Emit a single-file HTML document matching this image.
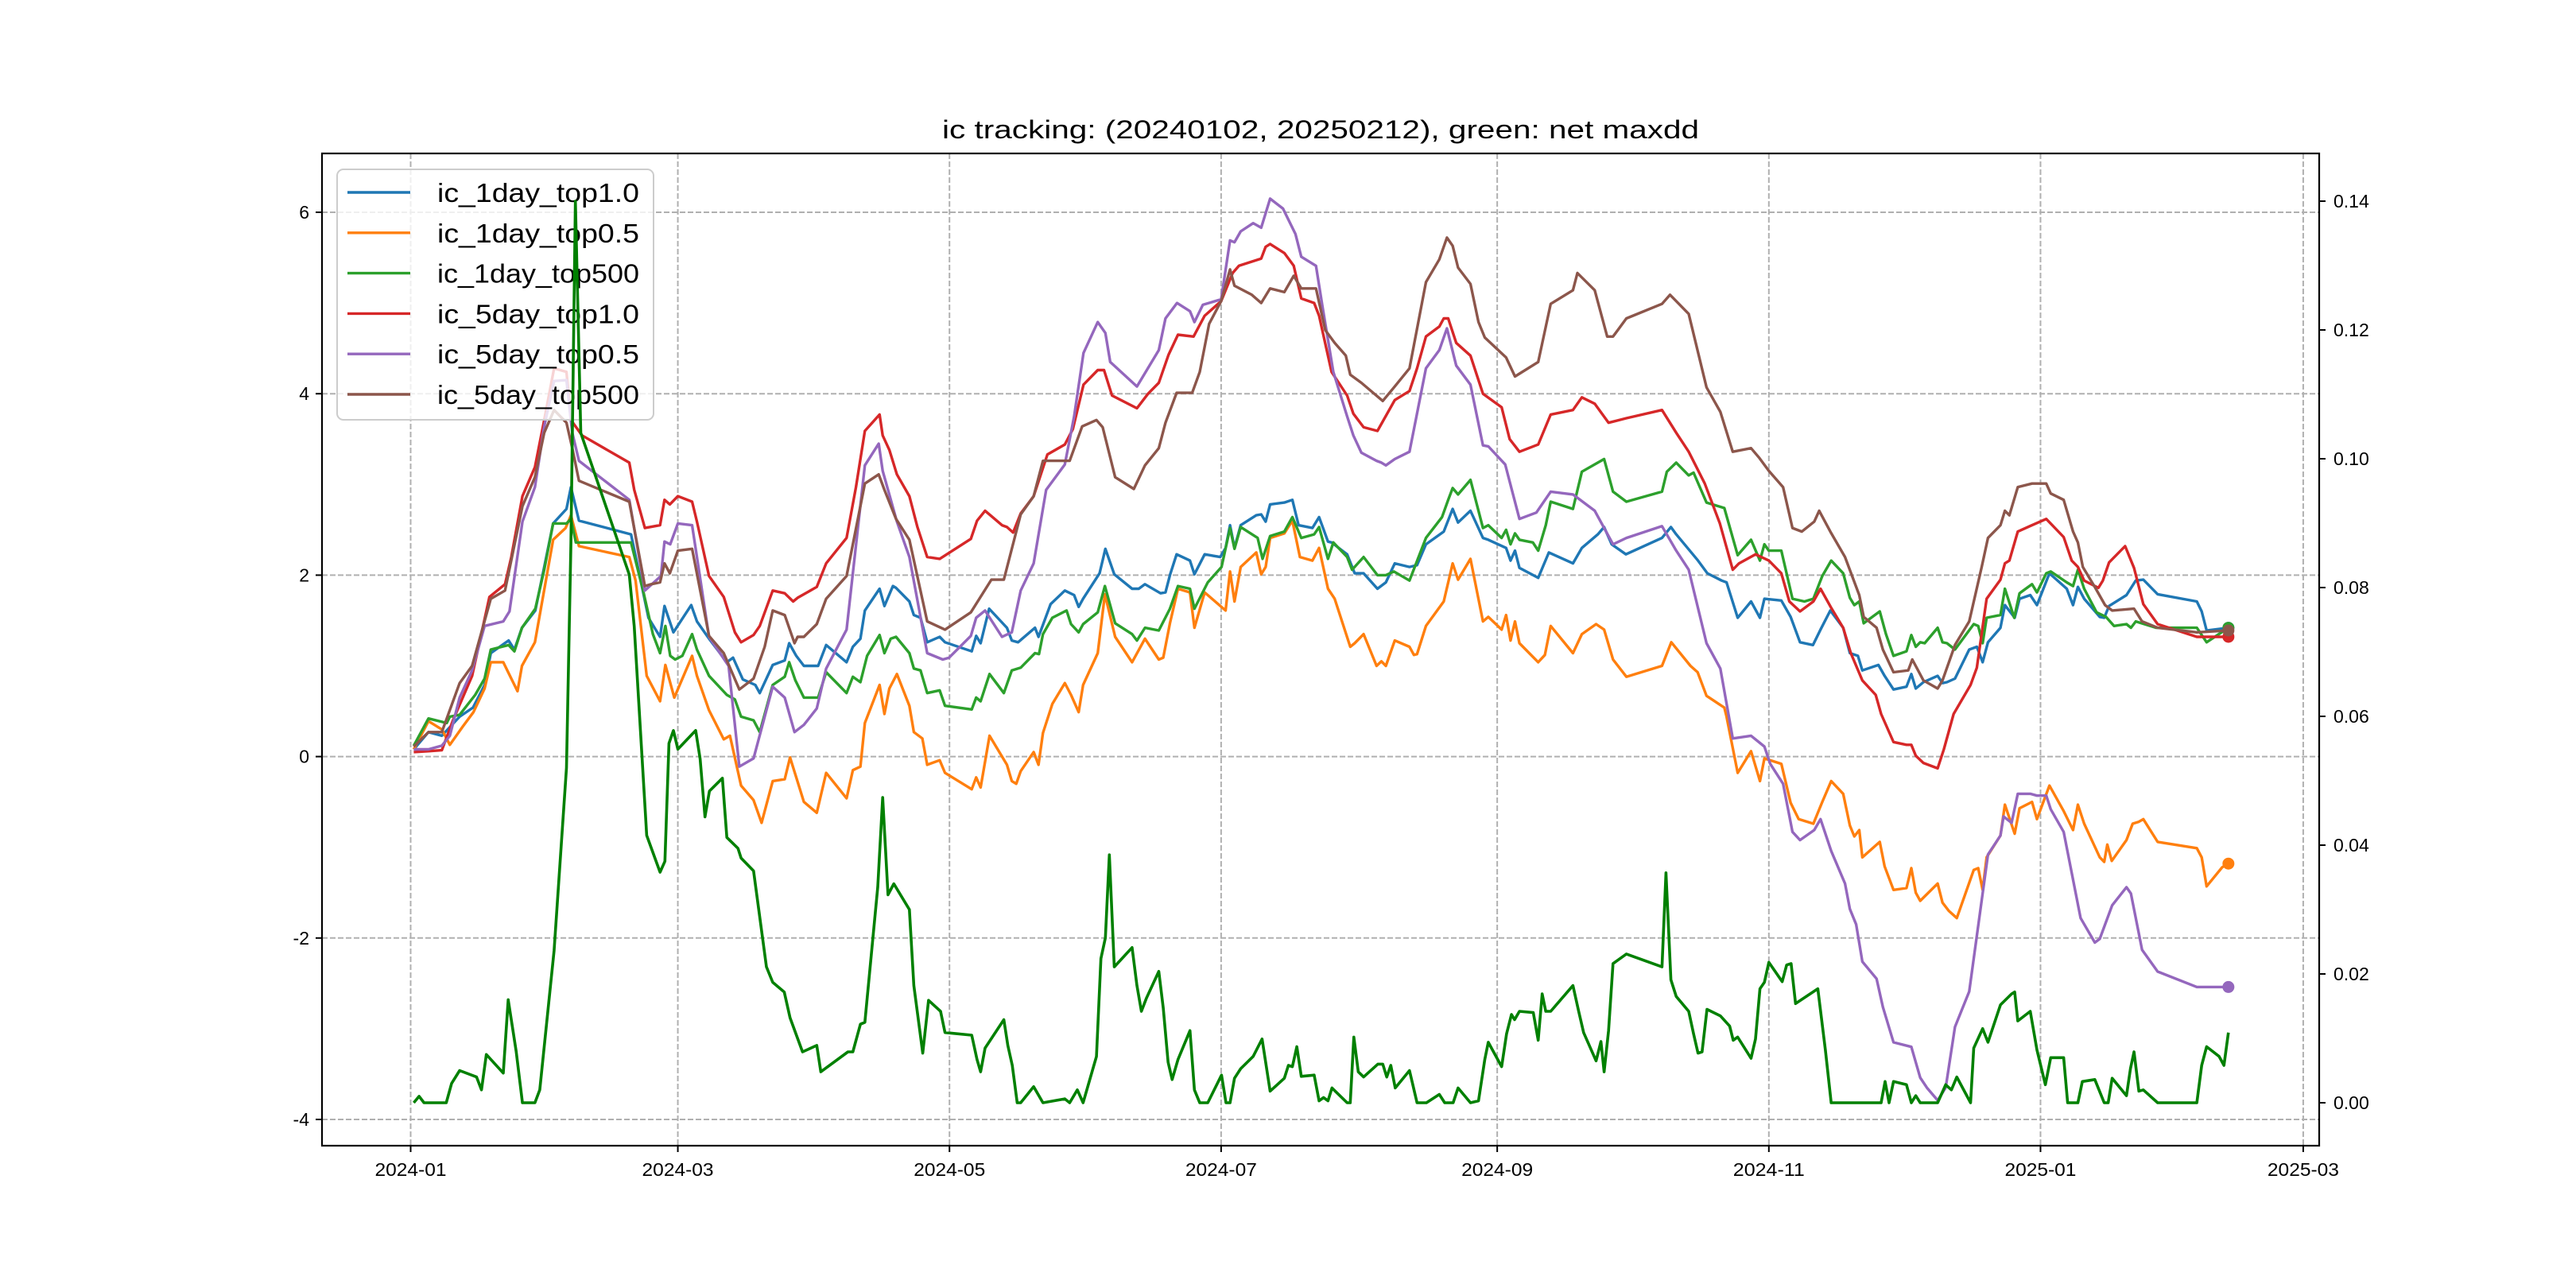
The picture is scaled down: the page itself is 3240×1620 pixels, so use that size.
<!DOCTYPE html>
<html><head><meta charset="utf-8"><style>
html,body{margin:0;padding:0;background:#fff;}
svg{display:block;font-family:"Liberation Sans","WenQuanYi Zen Hei",sans-serif;}
</style></head><body>
<svg id="chart" width="3240" height="1620" viewBox="0 0 3240 1620" xmlns="http://www.w3.org/2000/svg">
<rect x="0" y="0" width="3240" height="1620" fill="#fff"/>
<text x="1661" y="174" font-size="32" text-anchor="middle" fill="#000" textLength="952" lengthAdjust="spacingAndGlyphs">ic tracking: (20240102, 20250212), green: net maxdd</text>
<g id="grid"></g><g id="series"></g><g id="legend"></g><g id="dd"></g><g id="axes"></g>
</svg>
<script>
const xTickLabels=["2024-01","2024-03","2024-05","2024-07","2024-09","2024-11","2025-01","2025-03"];
const xTickDays=[0,60,121,182,244,305,366,425];
const yTickLabels=["-4","-2","0","2","4","6"];
const yTickValues=[-4,-2,0,2,4,6];
const y2TickLabels=["0.00","0.02","0.04","0.06","0.08","0.10","0.12","0.14"];
const y2TickValues=[0,0.02,0.04,0.06,0.08,0.10,0.12,0.14];
const seriesNames=["ic_1day_top1.0","ic_1day_top0.5","ic_1day_top500","ic_5day_top1.0","ic_5day_top0.5","ic_5day_top500"];
const seriesColors=["#1f77b4","#ff7f0e","#2ca02c","#d62728","#9467bd","#8c564b"];

const blueDays=[0.7,4,7,11,14,16.6,18,22,23.3,25,28,32,35,36,37.8,49.5,53.4,56,57,59,63,64.3,67,71,72.4,74.6,77.4,78.4,81.3,84,85,86.6,88.3,91.5,93.3,97.9,99.3,101,102,105.3,106.4,108.3,109,112,113,114.5,116,118.8,120,126,127,128,129.9,133.9,135,136.4,140.2,141,143.7,146.9,149,150,151,154.7,156,158,162,163.5,164.9,168.4,169.5,170.5,172,175,176,178.3,181.8,183,184,185,186.4,189.9,191,192,193,196.2,198,199.4,202.5,204,206,206.8,210.3,212,214,217.1,219,221,224.3,226,228,232,234,235.2,238,240.8,242,246,247,248,249,253.2,255.6,261,263,266.6,268,269.7,272.9,281,283,284.2,289.1,291.2,294.4,295.5,298,301,303,304,307.8,309.9,312,314.9,316.6,318.8,321.7,323.2,325,326,329.6,331,333,335.9,337,338,339.7,342.9,344,345,346.8,350,351.7,353,354.2,357,358,360.2,361.3,363.7,365.2,368,371.9,373.3,374.4,375.8,379.3,380.3,381.4,385.3,387.4,389.1,392.3,401.1,402.2,403.3,408.2];
const blueVals=[0.08,0.27,0.23,0.44,0.54,0.79,1.14,1.28,1.18,1.42,1.61,2.57,2.73,2.97,2.6,2.45,1.53,1.32,1.66,1.37,1.67,1.49,1.30,1.04,1.09,0.85,0.79,0.70,1.01,1.06,1.25,1.11,1.0,1.0,1.23,1.04,1.21,1.30,1.61,1.85,1.66,1.88,1.86,1.71,1.56,1.53,1.26,1.32,1.26,1.16,1.33,1.25,1.63,1.42,1.28,1.26,1.42,1.32,1.68,1.83,1.78,1.65,1.74,2.02,2.29,2.01,1.85,1.85,1.90,1.80,1.81,2.0,2.23,2.16,2.01,2.23,2.2,2.30,2.55,2.30,2.55,2.66,2.67,2.59,2.78,2.80,2.83,2.55,2.52,2.64,2.37,2.36,2.23,2.02,2.02,1.85,1.92,2.13,2.09,2.11,2.34,2.48,2.73,2.58,2.71,2.41,2.39,2.30,2.16,2.27,2.08,1.97,2.25,2.13,2.30,2.45,2.53,2.34,2.23,2.41,2.53,2.45,2.16,2.02,1.94,1.92,1.53,1.71,1.53,1.74,1.72,1.54,1.26,1.23,1.40,1.61,1.42,1.14,1.11,0.95,1.01,0.89,0.74,0.77,0.91,0.75,0.82,0.89,0.81,0.82,0.86,1.18,1.21,1.04,1.26,1.42,1.67,1.53,1.74,1.78,1.67,2.02,1.85,1.67,1.87,1.74,1.54,1.53,1.66,1.78,1.94,1.95,1.79,1.71,1.60,1.39,1.42];

const orangeDays=[0.7,4,7,8.8,11.7,14.1,16.6,18,20.8,22.6,24,25,27.9,32,34.8,36,37.8,49.1,50.5,53,56,57.2,59.2,63.2,64.3,67,70.3,71.7,74.2,77,78.8,81.3,84,85.2,86.6,88.3,91.2,93.3,97.9,99.3,101,102,105.3,106.4,107.5,109.2,112,113,114.9,116,118.8,120,126,127,128,130,133.9,135,136,137,139.9,141,142,144.1,146.9,148.3,150,151,154.3,155.9,158.2,162,164.9,168,169,170.5,172.3,175,176,178.3,183,184,185,186.4,189.9,191,192,193,196.2,198,199.7,202.5,204,206,207.5,211,212,214,216.9,218,219,221,224.3,225.3,226,228,232,234,235.2,238,240.8,242,245,246,247,248,249,253.2,254.7,256,261,263,266.2,268,270,273,281,283.1,287.4,289,291,295,295.5,298,301,303,304,307.8,309.9,311.7,315,317,319,321.7,323.2,324.2,325.3,326,329.9,331,333,335.9,337,338,339,342.9,344,345.4,347.2,351,352,353,353.9,357,358,360.2,361.3,364.1,365.2,368,371.2,373.3,374.4,375.8,379.3,380.3,381,382,385.3,386.7,388,389.1,392.3,401.1,402.2,403.3,406.8,408.2];
const orangeVals=[0.08,0.39,0.30,0.13,0.33,0.49,0.75,1.04,1.04,0.86,0.72,1.0,1.26,2.39,2.52,2.66,2.32,2.2,1.94,0.89,0.61,1.01,0.65,1.11,0.89,0.51,0.19,0.23,-0.32,-0.48,-0.73,-0.27,-0.25,-0.01,-0.23,-0.5,-0.62,-0.18,-0.46,-0.15,-0.11,0.37,0.79,0.47,0.75,0.91,0.56,0.27,0.2,-0.09,-0.04,-0.18,-0.36,-0.23,-0.34,0.23,-0.09,-0.27,-0.30,-0.16,0.05,-0.09,0.26,0.58,0.81,0.68,0.49,0.79,1.14,1.79,1.32,1.04,1.30,1.07,1.09,1.47,1.85,1.81,1.42,1.81,1.61,2.04,1.71,2.09,2.25,2.01,2.09,2.41,2.46,2.60,2.20,2.16,2.30,1.85,1.74,1.21,1.25,1.35,1.0,1.05,1.0,1.28,1.21,1.12,1.13,1.44,1.71,2.13,1.95,2.18,1.49,1.54,1.40,1.56,1.28,1.49,1.25,1.04,1.12,1.44,1.14,1.35,1.46,1.40,1.07,0.88,1.0,1.26,1.0,0.93,0.67,0.54,0.44,-0.18,0.06,-0.27,-0.02,-0.08,-0.51,-0.69,-0.74,-0.5,-0.27,-0.41,-0.76,-0.88,-0.81,-1.11,-0.94,-1.21,-1.47,-1.45,-1.23,-1.50,-1.59,-1.40,-1.61,-1.70,-1.78,-1.25,-1.23,-1.47,-1.11,-0.87,-0.53,-0.85,-0.57,-0.5,-0.69,-0.32,-0.60,-0.81,-0.53,-0.74,-1.11,-1.16,-0.97,-1.15,-0.92,-0.74,-0.72,-0.69,-0.94,-1.01,-1.11,-1.43,-1.22,-1.18];

const greenDays=[0.7,4,8.1,8.8,11,14.5,16.6,18,22,23.3,25,28,30,32,35,36,37.1,49.5,52.3,54.4,56,57.2,58.3,59.4,61,63.2,64.3,67,71,72.8,74.2,77,78.4,81.3,84,85,86.4,88.3,91.5,93.3,97.9,99.3,101,102.5,105.3,106.4,107.8,109,112,113,114.5,116,118.8,120,126,127,128,130,133.2,135,137,140.2,141.1,142,144.1,147.3,148.3,150,151,154.3,155.9,158.2,162,163.1,164.9,168,170.5,172.3,175,176,179,182.1,184,185,186.4,190.2,191.3,193,196.2,198,200,202.9,204,206,207.2,210.3,211.4,214,217.1,219,220.8,224.3,228,231.6,233,234,235.2,238,240.8,242,245,246,247,248,249,252,253.2,254.9,256,261,263,268,270,273,281,282.1,284.2,287,288.1,291,295,298,301,303,304,305,307.8,310.3,313,315,317,319,321.7,323.2,324.2,325.3,326.3,329.9,331.3,333,335.9,337,338,339,340,342.9,344,345,346.8,351,352,353,353.9,357,358,360.1,361.3,364.1,365.2,367.3,368.3,371.9,373.3,374.4,375.8,378.6,380.7,382.5,385.3,386.3,387.4,392,401.1,403.3,408.2];
const greenVals=[0.12,0.42,0.37,0.44,0.46,0.68,0.86,1.18,1.23,1.16,1.42,1.63,2.06,2.57,2.57,2.62,2.36,2.36,1.81,1.35,1.14,1.44,1.11,1.07,1.11,1.35,1.18,0.89,0.68,0.63,0.44,0.40,0.27,0.79,0.88,1.04,0.84,0.65,0.65,0.93,0.70,0.88,0.82,1.11,1.34,1.14,1.30,1.32,1.14,0.97,0.95,0.70,0.73,0.56,0.52,0.65,0.61,0.91,0.70,0.95,0.98,1.14,1.13,1.35,1.53,1.61,1.46,1.37,1.46,1.59,1.88,1.47,1.35,1.28,1.42,1.39,1.63,1.88,1.85,1.63,1.92,2.09,2.52,2.29,2.53,2.41,2.18,2.43,2.48,2.64,2.41,2.45,2.53,2.18,2.36,2.20,2.06,2.20,2.0,2.0,2.04,1.94,2.41,2.64,2.83,2.96,2.89,3.05,2.52,2.55,2.41,2.50,2.34,2.46,2.39,2.36,2.27,2.55,2.81,2.73,3.14,3.28,2.92,2.81,2.92,3.14,3.24,3.10,3.13,2.80,2.74,2.22,2.39,2.16,2.34,2.27,2.27,1.74,1.71,1.74,1.99,2.16,2.02,1.75,1.67,1.71,1.47,1.60,1.35,1.11,1.16,1.34,1.21,1.26,1.25,1.42,1.26,1.25,1.18,1.46,1.44,1.25,1.53,1.56,1.85,1.53,1.80,1.90,1.81,2.02,2.04,1.92,1.88,2.06,1.85,1.59,1.54,1.44,1.46,1.42,1.49,1.42,1.42,1.26,1.42];

const redDays=[0.7,4,7,9.5,13.8,17.7,21.2,22.6,25.1,27.9,30,32.2,35,36,38.5,49.1,50.2,52.6,56,57,58.2,60,63.2,64.3,67,70.3,72.8,74.2,77,78.4,81.3,84,85.9,86.9,91.2,93.3,97.9,100,102,105.3,106,107.5,109.2,112,113.8,116,118.8,125.8,127.2,129,132.8,133.9,135.3,137,139.9,143,146.9,148.7,151.1,154.3,155.7,157.5,163.1,165.6,168,170.2,172.3,175.8,178.3,182,184.6,186,191,192,193,196.2,198.3,200,202.9,204,206.8,210.3,211.7,214,217.1,221,224.3,226,228,231,232,233,234.8,238,240.8,245,246.8,249,253.2,256,261,263,265.9,269,273,281,284.2,287,290.6,294,296.9,298.3,302,305,307.8,309.6,312,315,316.6,319,321.7,323.4,326,329,330.2,333,335.9,337,338,339.7,342.9,344.3,346.5,350.3,351.7,353.9,357,358,359,360.9,364.1,367.3,371.2,373,374.4,375.8,379,380,381.4,385,387,389.1,392.3,401.1,408.2];
const redVals=[0.05,0.06,0.07,0.40,0.89,1.76,1.90,2.20,2.87,3.19,3.71,4.28,4.24,3.71,3.54,3.24,2.94,2.52,2.55,2.83,2.78,2.87,2.81,2.59,1.99,1.76,1.37,1.26,1.34,1.44,1.83,1.80,1.71,1.75,1.87,2.13,2.41,2.97,3.59,3.77,3.54,3.38,3.11,2.87,2.53,2.20,2.18,2.40,2.60,2.71,2.55,2.53,2.47,2.68,2.87,3.33,3.44,3.61,4.10,4.26,4.26,3.98,3.84,4.0,4.12,4.43,4.65,4.63,4.86,5.02,5.33,5.41,5.49,5.62,5.65,5.55,5.41,5.05,5.0,4.86,4.24,3.98,3.78,3.63,3.59,3.93,4.03,4.28,4.63,4.74,4.83,4.83,4.56,4.42,4.0,3.85,3.50,3.36,3.44,3.77,3.82,3.96,3.89,3.68,3.73,3.82,3.57,3.36,3.01,2.57,2.06,2.13,2.23,2.16,2.02,1.71,1.60,1.71,1.85,1.64,1.42,1.14,0.84,0.68,0.47,0.16,0.13,0.13,0.01,-0.07,-0.13,0.08,0.47,0.79,0.98,1.74,1.95,2.13,2.16,2.48,2.55,2.62,2.42,2.16,2.09,1.94,1.86,1.94,2.14,2.32,2.08,1.68,1.46,1.32,1.32];

const purpleDays=[0.7,4,7,8.8,11,13.8,16.6,20.8,22.2,25.1,27.9,30,32.2,35,36.3,37.8,49.1,52.6,56.2,57,58.3,60,63.2,67,71.4,73.8,77,79.5,81.3,84,86.2,88.3,91.2,93.3,97.9,102,105.1,106,109.2,112,116,119.5,120.9,125.8,127,129,132.8,135,137,139.9,142.7,146.9,149,151.1,154.3,156,157.1,163.1,168,169.5,172.1,175,176,177.9,182,184,185,186.4,189.2,191,193,195.9,198.7,200,203.3,204.7,207.2,210.3,211.7,213.5,216.9,218,219,221,224.3,228,231,232.7,234.8,238,240.8,242,245.8,249,252.8,256,261,265.9,270,273,281,284.2,287,291,294.1,296.9,301,304,305.3,308.2,310.3,312,315.2,316.6,319,322.1,323.2,324.6,326,329.2,330.6,333,337,339,340.5,342.9,344.7,346.8,350,354.2,357,357.7,359.5,360.9,363.7,365.2,367.3,368.3,371.2,375,378.2,379.3,382.1,385.3,386.3,388.8,392.3,401.1,408.2];
const purpleVals=[0.08,0.08,0.12,0.23,0.65,0.95,1.44,1.49,1.60,2.59,2.97,3.64,4.14,4.15,3.57,3.26,2.83,1.83,1.99,2.37,2.34,2.57,2.55,1.32,1.0,-0.11,-0.02,0.44,0.77,0.65,0.27,0.35,0.53,0.97,1.40,3.21,3.45,3.15,2.59,2.20,1.14,1.07,1.09,1.33,1.53,1.61,1.32,1.37,1.83,2.13,2.94,3.22,3.75,4.45,4.79,4.67,4.35,4.08,4.48,4.83,5.0,4.91,4.79,4.98,5.04,5.69,5.67,5.79,5.88,5.83,6.15,6.04,5.76,5.51,5.41,4.98,4.24,3.75,3.54,3.35,3.26,3.24,3.21,3.28,3.36,4.28,4.48,4.72,4.31,4.10,3.43,3.42,3.22,2.62,2.69,2.92,2.89,2.71,2.34,2.41,2.54,2.27,2.06,1.25,0.97,0.20,0.23,0.11,-0.08,-0.30,-0.83,-0.92,-0.81,-0.69,-1.04,-1.40,-1.68,-1.85,-2.26,-2.45,-2.76,-3.15,-3.20,-3.54,-3.65,-3.79,-3.65,-2.98,-2.59,-1.08,-0.87,-0.66,-0.73,-0.41,-0.41,-0.43,-0.43,-0.58,-0.83,-1.78,-2.05,-2.01,-1.64,-1.44,-1.51,-2.13,-2.37,-2.54,-2.54];

const brownDays=[0.7,4,7,11,13.8,18,21.2,25.1,27.9,30,32.2,35,36.3,37.8,49.1,52.6,54,56,57,58.2,60,63.2,67,70.3,73.8,77,79.5,81.3,84,86.2,86.9,88.3,91.2,93.3,97.9,102,105.1,106.4,109,112,116,120,125.8,130.4,133.2,137,139.9,142,148,150.8,154,155.4,158.2,162.4,164.9,168,169.5,172,175.5,177.2,179.3,182,184,185,188.9,191,193,196.2,198.3,200,203.3,205.4,207.5,210,211,213.5,218.3,221,224.3,228,231,232.7,234,235.2,238,239.8,241.2,246,248,253.2,256,261,262,265.9,268.7,270,273,281,282.8,287,291,294.1,296.9,301,302.9,305,308.2,310.3,312.4,315.2,316.3,318.8,322.1,325.3,326.3,329.2,330.6,333,336.3,337.2,339.7,342.9,344,346.8,350,352.8,354.2,357,358,359,360.9,364.1,367.3,368.3,371.2,373.3,374.4,375.5,378.3,380.5,382.1,387,388.8,392.3,401.1,408.2];
const brownVals=[0.11,0.27,0.27,0.81,1.0,1.74,1.83,2.76,3.08,3.57,3.82,3.68,3.40,3.04,2.81,1.88,1.90,1.92,2.13,2.02,2.27,2.29,1.33,1.14,0.74,0.86,1.21,1.61,1.56,1.25,1.32,1.32,1.46,1.74,1.99,3.01,3.11,2.94,2.62,2.39,1.49,1.40,1.59,1.95,1.95,2.67,2.87,3.26,3.26,3.64,3.71,3.63,3.08,2.95,3.21,3.40,3.68,4.01,4.01,4.24,4.77,5.02,5.37,5.19,5.09,5.0,5.16,5.12,5.30,5.16,5.16,4.70,4.56,4.42,4.21,4.12,3.92,4.08,4.28,5.23,5.48,5.72,5.63,5.39,5.21,4.79,4.62,4.40,4.19,4.35,4.99,5.14,5.33,5.14,4.63,4.63,4.83,4.99,5.09,4.88,4.07,3.80,3.36,3.40,3.29,3.15,2.97,2.52,2.48,2.59,2.71,2.48,2.20,1.78,1.54,1.42,1.18,0.93,0.95,1.07,0.84,0.75,0.84,1.23,1.49,2.09,2.41,2.55,2.71,2.66,2.97,3.01,3.01,2.90,2.83,2.48,2.36,2.09,1.86,1.67,1.61,1.63,1.49,1.42,1.37,1.39];

const ddDays=[0.7,1.9,3,8,9.2,11,14.8,15.9,17,20.8,21.9,23.7,25.1,27.9,29,32.2,35,36,37,38.2,49.1,50.2,53,56,57.1,58,59,60,64,65,66.1,67.1,70,71,73.5,74.2,77,79.9,81.3,83.9,85.2,88,91.2,92.1,98.2,99.3,101,102,104.9,106,107.2,108.5,112,113,115,116.3,119,120,126,127.2,128,129,133.2,134.1,135.1,136.2,137,139.9,142,146.9,148,149.7,151,154,155,156,156.9,158,162,163.1,164.1,165.2,168,169,170.1,171,172.3,175,176,177.2,179,182.1,183.1,184,185,186.4,189.2,191.2,193,196.2,197.1,198,199,200,202.9,204,205,206,206.9,210.3,211,211.8,212.8,214,217.2,218.3,219.2,220.1,221.1,224.3,226,228.1,231,232.2,234.1,235.2,238,239.8,241.2,242,245,246.1,247.2,247.9,249,252.1,253.2,254.1,254.9,256,261,262.3,263.4,266.2,267.3,268,269,270,273,281,281.9,283,284.2,287,288.1,289.1,290,291.1,294.1,296.2,297,298,301,302,303,304,305,308,309,310,311,316,317.7,319,330.2,331.1,332,333,335.9,337,338,339,342.9,344.7,346,347.2,350.3,351,353,354.2,357,359.5,360.2,360.9,363.7,365.2,367.1,368.3,371.2,372.1,374.4,375.4,378.2,380.3,381.2,382.1,385.3,386.2,387,388.1,389.1,392.3,401.1,402.2,403.3,406.1,407.2,408.2];
const ddVals=[0,0.001,0,0,0.003,0.005,0.004,0.002,0.0075,0.0046,0.016,0.008,0,0,0.002,0.0236,0.052,0.087,0.14,0.104,0.082,0.074,0.0415,0.0358,0.0375,0.0558,0.0578,0.0549,0.0578,0.0534,0.0444,0.0484,0.0504,0.0412,0.0395,0.038,0.036,0.0211,0.0187,0.0172,0.0132,0.0079,0.0089,0.0048,0.0079,0.0079,0.0122,0.0125,0.0335,0.0474,0.0323,0.034,0.030,0.0182,0.0077,0.0159,0.0142,0.0109,0.0105,0.0067,0.0048,0.0085,0.0129,0.0089,0.0058,0,0,0.0025,0,0.0006,0,0.002,0,0.0072,0.0224,0.0256,0.0385,0.0211,0.0241,0.0182,0.0142,0.0162,0.0204,0.0147,0.0063,0.0036,0.0067,0.0112,0.002,0,0,0.0043,0,0,0.0038,0.0053,0.0072,0.0099,0.0018,0.0038,0.0058,0.0056,0.0087,0.0041,0.0043,0.0003,0.0008,0.0003,0.0023,0,0,0.0102,0.0048,0.004,0.006,0.006,0.004,0.0058,0.0023,0.005,0,0,0.0013,0,0,0.0023,0,0.0003,0.0067,0.0094,0.0056,0.0107,0.0137,0.0129,0.0142,0.014,0.0097,0.0169,0.0142,0.0142,0.0182,0.0142,0.0109,0.0065,0.0095,0.0048,0.0112,0.0216,0.0231,0.0211,0.0357,0.0191,0.0165,0.0142,0.0107,0.0077,0.0079,0.0145,0.0135,0.0119,0.0097,0.0102,0.0069,0.0099,0.0177,0.0187,0.0218,0.0188,0.0214,0.0216,0.0154,0.0177,0.0082,0,0,0.0033,0,0.0033,0.0028,0,0.0011,0,0,0.0028,0.002,0.004,0,0.0085,0.0115,0.0094,0.0152,0.0169,0.0172,0.0127,0.0142,0.0082,0.0028,0.007,0.007,0,0,0.0033,0.0036,0,0,0.0038,0.0011,0.0053,0.0079,0.0018,0.002,0,0,0.0058,0.0087,0.0072,0.0058,0.0109];

const allDays=[blueDays,orangeDays,greenDays,redDays,purpleDays,brownDays];
const allVals=[blueVals,orangeVals,greenVals,redVals,purpleVals,brownVals];

const NS="http://www.w3.org/2000/svg";
const L=405,R=2917,T=193,B=1441;
const xs=d=>516.5+d*5.601;
const ys=v=>951.6-v*114.1;
const ys2=v=>1387-v*8100;
function mk(tag,attrs,parent){const e=document.createElementNS(NS,tag);for(const k in attrs)e.setAttribute(k,attrs[k]);parent.appendChild(e);return e;}
const grid=document.getElementById('grid'),ser=document.getElementById('series'),leg=document.getElementById('legend'),ddg=document.getElementById('dd'),ax=document.getElementById('axes');

xTickDays.forEach((d,i)=>{
  const g=mk('line',{x1:xs(d),x2:xs(d),y1:T,y2:B,stroke:'#b0b0b0','stroke-width':2,'stroke-dasharray':'7,3'},grid);
  
  
  const t=mk('line',{x1:xs(d),x2:xs(d),y1:B,y2:B+8,stroke:'#000','stroke-width':2},ax);
  
  
  const l=mk('text',{x:xs(d),y:B+38,'font-size':23,'text-anchor':'middle',fill:'#000',textLength:90,lengthAdjust:'spacingAndGlyphs'},ax);
  l.textContent=xTickLabels[i];
  
  
});
yTickValues.forEach((v,i)=>{
  const g=mk('line',{x1:L,x2:R,y1:ys(v),y2:ys(v),stroke:'#b0b0b0','stroke-width':2,'stroke-dasharray':'7,3'},grid);
  
  
  const t=mk('line',{x1:L-8,x2:L,y1:ys(v),y2:ys(v),stroke:'#000','stroke-width':2},ax);
  
  
  const l=mk('text',{x:L-16,y:ys(v)+8,'font-size':23,'text-anchor':'end',fill:'#000'},ax);
  l.textContent=yTickLabels[i];
  
  
});
y2TickValues.forEach((v,i)=>{
  const t=mk('line',{x1:R,x2:R+8,y1:ys2(v),y2:ys2(v),stroke:'#000','stroke-width':2},ax);
  
  
  const l=mk('text',{x:R+18,y:ys2(v)+8,'font-size':23,'text-anchor':'start',fill:'#000'},ax);
  l.textContent=y2TickLabels[i];
  
  
});
const frame=mk('rect',{x:L,y:T,width:R-L,height:B-T,fill:'none',stroke:'#000','stroke-width':2.2},ax);



allDays.forEach((days,s)=>{
  const vals=allVals[s];
  const pts=days.map((d,i)=>xs(d).toFixed(1)+','+ys(vals[i]).toFixed(1)).join(' ');
  const p=mk('polyline',{points:pts,fill:'none',stroke:seriesColors[s],'stroke-width':3.4,'stroke-linejoin':'round'},ser);
  
  
});
allDays.forEach((days,s)=>{
  const vals=allVals[s];const n=days.length-1;
  const c=mk('circle',{cx:xs(days[n]),cy:ys(vals[n]),r:7.5,fill:seriesColors[s]},ser);
  
  
});

const lb=mk('rect',{x:424,y:213,width:398,height:315,rx:8,fill:'#fff','fill-opacity':0.8,stroke:'#cccccc','stroke-width':2},leg);


seriesNames.forEach((nm,i)=>{
  const y=242+i*50.8;
  const ln=mk('line',{x1:437,x2:516,y1:y,y2:y,stroke:seriesColors[i],'stroke-width':3.4},leg);
  
  
  const t=mk('text',{x:550,y:y+12,'font-size':33,fill:'#000',textLength:254,lengthAdjust:'spacingAndGlyphs'},leg);
  t.textContent=nm;
  
  
});

const ddPts=ddDays.map((d,i)=>xs(d).toFixed(1)+','+ys2(ddVals[i]).toFixed(1)).join(' ');
const ddl=mk('polyline',{points:ddPts,fill:'none',stroke:'#008000','stroke-width':3.6,'stroke-linejoin':'round'},ddg);


</script>
</body></html>
